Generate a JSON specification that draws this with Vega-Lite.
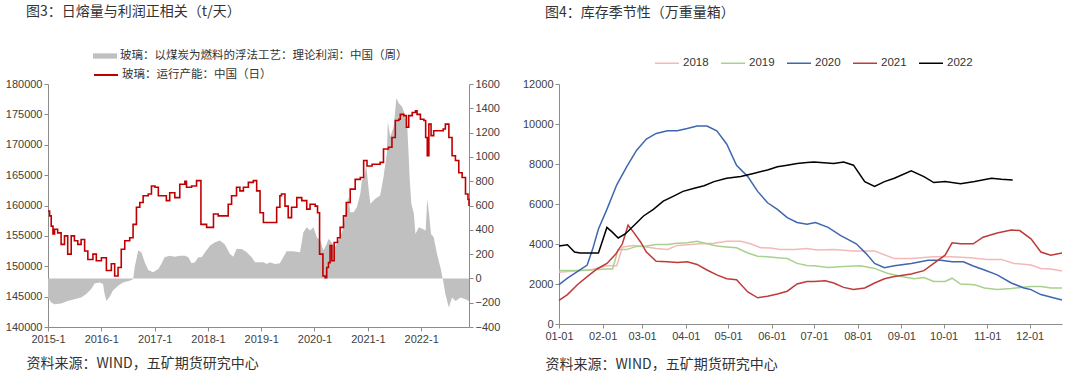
{
  "$schema": "https://vega.github.io/schema/vega-lite/v6.json",
  "background": "white",
  "padding": {"left": 5, "top": 5, "right": 0, "bottom": 0},
  "spacing": 22,
  "resolve": {"legend": {"color": "independent", "fill": "independent", "stroke": "independent", "strokeWidth": "independent"}, "scale": {"color": "independent", "fill": "independent", "stroke": "independent", "strokeWidth": "independent"}},
  "config": {
    "font": "Liberation Sans",
    "view": {"stroke": null},
    "axis": {"grid": false, "labelFont": "Liberation Sans", "labelFontSize": 11, "labelColor": "#404040", "domainColor": "#8c8c8c", "tickColor": "#8c8c8c", "tickSize": 4, "labelPadding": 2},
    "title": {"font": "Noto Sans CJK SC", "fontSize": 14, "fontWeight": "normal", "color": "#333333", "anchor": "start", "frame": "group"}
  },
  "datasets": {
    "profit": [
      {"date": "2015-01-01", "value": -157}, {"date": "2015-01-23", "value": -198}, {"date": "2015-02-15", "value": -212}, {"date": "2015-04-01", "value": -207},
      {"date": "2015-05-16", "value": -185}, {"date": "2015-07-01", "value": -171}, {"date": "2015-08-16", "value": -157}, {"date": "2015-09-20", "value": -129},
      {"date": "2015-10-24", "value": -88}, {"date": "2015-11-16", "value": -41}, {"date": "2015-12-20", "value": -33}, {"date": "2016-01-13", "value": -47},
      {"date": "2016-01-24", "value": -129}, {"date": "2016-02-05", "value": -185}, {"date": "2016-02-28", "value": -152}, {"date": "2016-03-20", "value": -102},
      {"date": "2016-04-25", "value": -61}, {"date": "2016-05-29", "value": -33}, {"date": "2016-07-14", "value": -19}, {"date": "2016-08-06", "value": -6},
      {"date": "2016-08-17", "value": 91}, {"date": "2016-09-10", "value": 229}, {"date": "2016-10-02", "value": 215}, {"date": "2016-10-25", "value": 132},
      {"date": "2016-11-18", "value": 69}, {"date": "2016-12-21", "value": 50}, {"date": "2017-01-26", "value": 77}, {"date": "2017-02-18", "value": 124},
      {"date": "2017-03-10", "value": 174}, {"date": "2017-04-14", "value": 187}, {"date": "2017-05-19", "value": 179}, {"date": "2017-06-22", "value": 187},
      {"date": "2017-07-27", "value": 187}, {"date": "2017-08-19", "value": 174}, {"date": "2017-09-11", "value": 124}, {"date": "2017-10-04", "value": 132},
      {"date": "2017-10-27", "value": 174}, {"date": "2017-11-19", "value": 174}, {"date": "2017-12-12", "value": 215}, {"date": "2018-01-16", "value": 270},
      {"date": "2018-02-19", "value": 298}, {"date": "2018-03-24", "value": 311}, {"date": "2018-04-27", "value": 278}, {"date": "2018-06-01", "value": 201},
      {"date": "2018-06-24", "value": 179}, {"date": "2018-07-16", "value": 242}, {"date": "2018-08-20", "value": 242}, {"date": "2018-09-24", "value": 215},
      {"date": "2018-10-28", "value": 174}, {"date": "2018-11-20", "value": 132}, {"date": "2019-01-16", "value": 132}, {"date": "2019-02-09", "value": 118},
      {"date": "2019-03-01", "value": 132}, {"date": "2019-04-05", "value": 118}, {"date": "2019-05-09", "value": 124}, {"date": "2019-06-24", "value": 223},
      {"date": "2019-08-09", "value": 223}, {"date": "2019-09-24", "value": 215}, {"date": "2019-10-17", "value": 380}, {"date": "2019-11-09", "value": 421},
      {"date": "2019-12-02", "value": 394}, {"date": "2019-12-25", "value": 421}, {"date": "2020-01-17", "value": 339}, {"date": "2020-02-10", "value": 311},
      {"date": "2020-03-02", "value": 229}, {"date": "2020-03-25", "value": 284}, {"date": "2020-04-06", "value": 325}, {"date": "2020-04-17", "value": 311},
      {"date": "2020-05-21", "value": 256}, {"date": "2020-06-25", "value": 339}, {"date": "2020-07-18", "value": 421}, {"date": "2020-08-06", "value": 587},
      {"date": "2020-08-21", "value": 669}, {"date": "2020-09-02", "value": 545}, {"date": "2020-09-25", "value": 545}, {"date": "2020-10-18", "value": 587},
      {"date": "2020-11-10", "value": 697}, {"date": "2020-11-21", "value": 807}, {"date": "2020-12-08", "value": 835}, {"date": "2020-12-21", "value": 931},
      {"date": "2021-01-07", "value": 725}, {"date": "2021-01-18", "value": 614}, {"date": "2021-02-21", "value": 656}, {"date": "2021-03-26", "value": 683},
      {"date": "2021-04-18", "value": 835}, {"date": "2021-05-11", "value": 1028}, {"date": "2021-05-18", "value": 1289}, {"date": "2021-06-03", "value": 1165},
      {"date": "2021-06-27", "value": 1248}, {"date": "2021-07-15", "value": 1482}, {"date": "2021-08-01", "value": 1441}, {"date": "2021-08-24", "value": 1413},
      {"date": "2021-09-09", "value": 1358}, {"date": "2021-09-27", "value": 1275}, {"date": "2021-10-08", "value": 1000}, {"date": "2021-10-15", "value": 807},
      {"date": "2021-10-26", "value": 614}, {"date": "2021-11-12", "value": 532}, {"date": "2021-11-23", "value": 366}, {"date": "2021-12-16", "value": 421},
      {"date": "2022-01-08", "value": 408}, {"date": "2022-02-01", "value": 394}, {"date": "2022-02-12", "value": 656}, {"date": "2022-02-23", "value": 545},
      {"date": "2022-03-10", "value": 366}, {"date": "2022-03-28", "value": 339}, {"date": "2022-04-20", "value": 201}, {"date": "2022-05-13", "value": 91},
      {"date": "2022-06-01", "value": -19}, {"date": "2022-06-16", "value": -129}, {"date": "2022-07-10", "value": -240}, {"date": "2022-08-01", "value": -157},
      {"date": "2022-08-24", "value": -185}, {"date": "2022-09-28", "value": -157}, {"date": "2022-11-01", "value": -171}, {"date": "2022-11-25", "value": -185}
    ],
    "capacity": [
      {"date": "2015-01-01", "value": 159100}, {"date": "2015-01-12", "value": 158300}, {"date": "2015-01-23", "value": 156600}, {"date": "2015-02-04", "value": 155300},
      {"date": "2015-02-15", "value": 156100}, {"date": "2015-03-08", "value": 155500}, {"date": "2015-04-01", "value": 153600}, {"date": "2015-04-24", "value": 155000},
      {"date": "2015-05-16", "value": 152000}, {"date": "2015-06-09", "value": 155000}, {"date": "2015-07-01", "value": 154200}, {"date": "2015-07-24", "value": 153600},
      {"date": "2015-08-16", "value": 154400}, {"date": "2015-09-09", "value": 152500}, {"date": "2015-10-01", "value": 151100}, {"date": "2015-11-05", "value": 152000},
      {"date": "2015-11-28", "value": 150900}, {"date": "2016-01-02", "value": 151400}, {"date": "2016-02-05", "value": 149300}, {"date": "2016-03-10", "value": 150400},
      {"date": "2016-04-02", "value": 148400}, {"date": "2016-04-25", "value": 149800}, {"date": "2016-05-17", "value": 152800}, {"date": "2016-06-10", "value": 154200},
      {"date": "2016-07-14", "value": 154700}, {"date": "2016-08-06", "value": 156900}, {"date": "2016-08-29", "value": 159700}, {"date": "2016-09-21", "value": 160500},
      {"date": "2016-10-14", "value": 161600}, {"date": "2016-11-18", "value": 161900}, {"date": "2016-12-10", "value": 163200}, {"date": "2017-01-03", "value": 163000},
      {"date": "2017-01-26", "value": 161600}, {"date": "2017-03-01", "value": 161600}, {"date": "2017-03-22", "value": 160800}, {"date": "2017-04-14", "value": 162100},
      {"date": "2017-05-19", "value": 161300}, {"date": "2017-06-22", "value": 163500}, {"date": "2017-07-27", "value": 164000}, {"date": "2017-08-07", "value": 163000},
      {"date": "2017-09-11", "value": 163200}, {"date": "2017-10-15", "value": 164100}, {"date": "2017-11-03", "value": 164100}, {"date": "2017-11-14", "value": 156900},
      {"date": "2017-12-12", "value": 156900}, {"date": "2017-12-23", "value": 156400}, {"date": "2018-02-08", "value": 158600}, {"date": "2018-03-12", "value": 158300},
      {"date": "2018-04-16", "value": 158300}, {"date": "2018-05-20", "value": 160200}, {"date": "2018-06-12", "value": 161600}, {"date": "2018-07-16", "value": 163000},
      {"date": "2018-08-08", "value": 162400}, {"date": "2018-09-01", "value": 163000}, {"date": "2018-10-05", "value": 163800}, {"date": "2018-11-08", "value": 164100},
      {"date": "2018-12-01", "value": 162400}, {"date": "2018-12-24", "value": 158800}, {"date": "2019-01-16", "value": 157200}, {"date": "2019-03-01", "value": 157200},
      {"date": "2019-04-17", "value": 159700}, {"date": "2019-05-09", "value": 161600}, {"date": "2019-05-20", "value": 161900}, {"date": "2019-06-13", "value": 159900},
      {"date": "2019-07-05", "value": 158000}, {"date": "2019-07-28", "value": 159700}, {"date": "2019-09-02", "value": 161300}, {"date": "2019-10-06", "value": 160800},
      {"date": "2019-11-09", "value": 159400}, {"date": "2019-12-02", "value": 160200}, {"date": "2020-01-06", "value": 159900}, {"date": "2020-01-22", "value": 158800},
      {"date": "2020-02-05", "value": 152000}, {"date": "2020-02-28", "value": 148400}, {"date": "2020-03-14", "value": 148100}, {"date": "2020-03-25", "value": 149800},
      {"date": "2020-04-06", "value": 150600}, {"date": "2020-04-17", "value": 153400}, {"date": "2020-04-29", "value": 150900}, {"date": "2020-05-15", "value": 153900},
      {"date": "2020-06-07", "value": 154700}, {"date": "2020-06-25", "value": 156400}, {"date": "2020-07-18", "value": 158300}, {"date": "2020-08-06", "value": 160500},
      {"date": "2020-09-02", "value": 162700}, {"date": "2020-10-06", "value": 164300}, {"date": "2020-11-10", "value": 164600}, {"date": "2020-12-03", "value": 167400},
      {"date": "2020-12-26", "value": 166500}, {"date": "2021-01-30", "value": 166800}, {"date": "2021-03-03", "value": 166800}, {"date": "2021-03-26", "value": 167100},
      {"date": "2021-04-18", "value": 169300}, {"date": "2021-05-22", "value": 169600}, {"date": "2021-06-15", "value": 171200}, {"date": "2021-07-08", "value": 174000},
      {"date": "2021-08-01", "value": 174200}, {"date": "2021-08-11", "value": 175000}, {"date": "2021-09-04", "value": 174800}, {"date": "2021-09-22", "value": 172900},
      {"date": "2021-10-08", "value": 174800}, {"date": "2021-11-01", "value": 175300}, {"date": "2021-11-23", "value": 175600}, {"date": "2021-12-04", "value": 175000},
      {"date": "2021-12-27", "value": 174200}, {"date": "2022-01-20", "value": 174000}, {"date": "2022-02-01", "value": 171200}, {"date": "2022-02-12", "value": 168200},
      {"date": "2022-02-23", "value": 173400}, {"date": "2022-03-10", "value": 171500}, {"date": "2022-03-28", "value": 172300}, {"date": "2022-05-01", "value": 172300},
      {"date": "2022-06-01", "value": 172600}, {"date": "2022-06-16", "value": 173400}, {"date": "2022-07-10", "value": 171200}, {"date": "2022-08-01", "value": 168200},
      {"date": "2022-08-24", "value": 167400}, {"date": "2022-09-16", "value": 165400}, {"date": "2022-10-09", "value": 164600}, {"date": "2022-11-01", "value": 161900},
      {"date": "2022-11-18", "value": 161000}, {"date": "2022-11-25", "value": 159900}
    ],
    "inventory": [
      {"year": "2018", "date": "2022-01-01", "value": 2590}, {"year": "2018", "date": "2022-01-12", "value": 2650}, {"year": "2018", "date": "2022-01-23", "value": 2700},
      {"year": "2018", "date": "2022-02-04", "value": 2910}, {"year": "2018", "date": "2022-02-11", "value": 2910}, {"year": "2018", "date": "2022-02-15", "value": 3850},
      {"year": "2018", "date": "2022-02-23", "value": 3930}, {"year": "2018", "date": "2022-03-04", "value": 3850}, {"year": "2018", "date": "2022-03-11", "value": 3770},
      {"year": "2018", "date": "2022-03-19", "value": 3730}, {"year": "2018", "date": "2022-03-26", "value": 3930}, {"year": "2018", "date": "2022-04-02", "value": 3960},
      {"year": "2018", "date": "2022-04-11", "value": 4010}, {"year": "2018", "date": "2022-04-21", "value": 4040}, {"year": "2018", "date": "2022-04-30", "value": 4140},
      {"year": "2018", "date": "2022-05-10", "value": 4140}, {"year": "2018", "date": "2022-05-17", "value": 4010}, {"year": "2018", "date": "2022-05-24", "value": 3810},
      {"year": "2018", "date": "2022-05-31", "value": 3800}, {"year": "2018", "date": "2022-06-07", "value": 3730}, {"year": "2018", "date": "2022-06-17", "value": 3730},
      {"year": "2018", "date": "2022-06-26", "value": 3770}, {"year": "2018", "date": "2022-07-03", "value": 3700}, {"year": "2018", "date": "2022-07-15", "value": 3730},
      {"year": "2018", "date": "2022-07-29", "value": 3650}, {"year": "2018", "date": "2022-08-13", "value": 3650}, {"year": "2018", "date": "2022-08-27", "value": 3270},
      {"year": "2018", "date": "2022-09-08", "value": 3270}, {"year": "2018", "date": "2022-09-24", "value": 3360}, {"year": "2018", "date": "2022-10-06", "value": 3360},
      {"year": "2018", "date": "2022-10-20", "value": 3310}, {"year": "2018", "date": "2022-11-01", "value": 3230}, {"year": "2018", "date": "2022-11-11", "value": 3230},
      {"year": "2018", "date": "2022-11-20", "value": 3030}, {"year": "2018", "date": "2022-12-02", "value": 2950}, {"year": "2018", "date": "2022-12-09", "value": 2780},
      {"year": "2018", "date": "2022-12-16", "value": 2750}, {"year": "2018", "date": "2022-12-24", "value": 2650},
      {"year": "2019", "date": "2022-01-01", "value": 2670}, {"year": "2019", "date": "2022-01-12", "value": 2670}, {"year": "2019", "date": "2022-01-23", "value": 2700},
      {"year": "2019", "date": "2022-02-04", "value": 2750}, {"year": "2019", "date": "2022-02-08", "value": 2750}, {"year": "2019", "date": "2022-02-12", "value": 3720},
      {"year": "2019", "date": "2022-02-18", "value": 3720}, {"year": "2019", "date": "2022-02-25", "value": 3880}, {"year": "2019", "date": "2022-03-04", "value": 3900},
      {"year": "2019", "date": "2022-03-11", "value": 3980}, {"year": "2019", "date": "2022-03-19", "value": 3980}, {"year": "2019", "date": "2022-03-26", "value": 4040},
      {"year": "2019", "date": "2022-04-02", "value": 4060}, {"year": "2019", "date": "2022-04-09", "value": 4140}, {"year": "2019", "date": "2022-04-16", "value": 4010},
      {"year": "2019", "date": "2022-04-23", "value": 3900}, {"year": "2019", "date": "2022-04-30", "value": 3850}, {"year": "2019", "date": "2022-05-07", "value": 3810},
      {"year": "2019", "date": "2022-05-15", "value": 3550}, {"year": "2019", "date": "2022-05-22", "value": 3390}, {"year": "2019", "date": "2022-05-29", "value": 3360},
      {"year": "2019", "date": "2022-06-05", "value": 3310}, {"year": "2019", "date": "2022-06-12", "value": 3270}, {"year": "2019", "date": "2022-06-19", "value": 3030},
      {"year": "2019", "date": "2022-06-26", "value": 2930}, {"year": "2019", "date": "2022-07-01", "value": 2910}, {"year": "2019", "date": "2022-07-11", "value": 2830},
      {"year": "2019", "date": "2022-07-22", "value": 2870}, {"year": "2019", "date": "2022-08-03", "value": 2910}, {"year": "2019", "date": "2022-08-13", "value": 2780},
      {"year": "2019", "date": "2022-08-22", "value": 2540}, {"year": "2019", "date": "2022-09-01", "value": 2370}, {"year": "2019", "date": "2022-09-10", "value": 2260},
      {"year": "2019", "date": "2022-09-17", "value": 2320}, {"year": "2019", "date": "2022-09-24", "value": 2130}, {"year": "2019", "date": "2022-10-02", "value": 2130},
      {"year": "2019", "date": "2022-10-07", "value": 2290}, {"year": "2019", "date": "2022-10-13", "value": 2000}, {"year": "2019", "date": "2022-10-23", "value": 1965},
      {"year": "2019", "date": "2022-10-30", "value": 1800}, {"year": "2019", "date": "2022-11-08", "value": 1720}, {"year": "2019", "date": "2022-11-18", "value": 1770},
      {"year": "2019", "date": "2022-12-02", "value": 1880}, {"year": "2019", "date": "2022-12-09", "value": 1880}, {"year": "2019", "date": "2022-12-16", "value": 1800},
      {"year": "2019", "date": "2022-12-24", "value": 1800},
      {"year": "2020", "date": "2022-01-01", "value": 1965}, {"year": "2020", "date": "2022-01-07", "value": 2290}, {"year": "2020", "date": "2022-01-14", "value": 2620},
      {"year": "2020", "date": "2022-01-21", "value": 2950}, {"year": "2020", "date": "2022-01-25", "value": 3770}, {"year": "2020", "date": "2022-01-29", "value": 4750},
      {"year": "2020", "date": "2022-02-04", "value": 5730}, {"year": "2020", "date": "2022-02-11", "value": 6960}, {"year": "2020", "date": "2022-02-18", "value": 7860},
      {"year": "2020", "date": "2022-02-25", "value": 8680}, {"year": "2020", "date": "2022-03-04", "value": 9250}, {"year": "2020", "date": "2022-03-11", "value": 9530},
      {"year": "2020", "date": "2022-03-19", "value": 9660}, {"year": "2020", "date": "2022-03-26", "value": 9660}, {"year": "2020", "date": "2022-04-02", "value": 9770},
      {"year": "2020", "date": "2022-04-09", "value": 9900}, {"year": "2020", "date": "2022-04-16", "value": 9900}, {"year": "2020", "date": "2022-04-23", "value": 9660},
      {"year": "2020", "date": "2022-04-30", "value": 9000}, {"year": "2020", "date": "2022-05-07", "value": 7940}, {"year": "2020", "date": "2022-05-15", "value": 7370},
      {"year": "2020", "date": "2022-05-22", "value": 6630}, {"year": "2020", "date": "2022-05-29", "value": 6060}, {"year": "2020", "date": "2022-06-05", "value": 5730},
      {"year": "2020", "date": "2022-06-12", "value": 5320}, {"year": "2020", "date": "2022-06-19", "value": 5075}, {"year": "2020", "date": "2022-06-26", "value": 4990},
      {"year": "2020", "date": "2022-07-02", "value": 5075}, {"year": "2020", "date": "2022-07-11", "value": 4830}, {"year": "2020", "date": "2022-07-20", "value": 4420},
      {"year": "2020", "date": "2022-07-31", "value": 4010}, {"year": "2020", "date": "2022-08-07", "value": 3520}, {"year": "2020", "date": "2022-08-13", "value": 3030},
      {"year": "2020", "date": "2022-08-20", "value": 2816}, {"year": "2020", "date": "2022-08-27", "value": 2914}, {"year": "2020", "date": "2022-09-08", "value": 3030},
      {"year": "2020", "date": "2022-09-20", "value": 3190}, {"year": "2020", "date": "2022-09-29", "value": 3190}, {"year": "2020", "date": "2022-10-07", "value": 3110},
      {"year": "2020", "date": "2022-10-15", "value": 3110}, {"year": "2020", "date": "2022-10-22", "value": 2900}, {"year": "2020", "date": "2022-10-30", "value": 2700},
      {"year": "2020", "date": "2022-11-08", "value": 2456}, {"year": "2020", "date": "2022-11-18", "value": 2050}, {"year": "2020", "date": "2022-11-27", "value": 1800},
      {"year": "2020", "date": "2022-12-02", "value": 1720}, {"year": "2020", "date": "2022-12-09", "value": 1470}, {"year": "2020", "date": "2022-12-24", "value": 1195},
      {"year": "2021", "date": "2022-01-01", "value": 1180}, {"year": "2021", "date": "2022-01-07", "value": 1470}, {"year": "2021", "date": "2022-01-14", "value": 1965},
      {"year": "2021", "date": "2022-01-21", "value": 2370}, {"year": "2021", "date": "2022-01-28", "value": 2750}, {"year": "2021", "date": "2022-02-04", "value": 3030},
      {"year": "2021", "date": "2022-02-10", "value": 3470}, {"year": "2021", "date": "2022-02-15", "value": 4010}, {"year": "2021", "date": "2022-02-19", "value": 4940},
      {"year": "2021", "date": "2022-02-23", "value": 4580}, {"year": "2021", "date": "2022-02-28", "value": 4090}, {"year": "2021", "date": "2022-03-04", "value": 3600},
      {"year": "2021", "date": "2022-03-11", "value": 3140}, {"year": "2021", "date": "2022-03-19", "value": 3110}, {"year": "2021", "date": "2022-03-26", "value": 3080},
      {"year": "2021", "date": "2022-04-02", "value": 3110}, {"year": "2021", "date": "2022-04-09", "value": 2980}, {"year": "2021", "date": "2022-04-16", "value": 2700},
      {"year": "2021", "date": "2022-04-23", "value": 2456}, {"year": "2021", "date": "2022-04-30", "value": 2260}, {"year": "2021", "date": "2022-05-07", "value": 2210},
      {"year": "2021", "date": "2022-05-15", "value": 1600}, {"year": "2021", "date": "2022-05-22", "value": 1310}, {"year": "2021", "date": "2022-05-29", "value": 1390},
      {"year": "2021", "date": "2022-06-05", "value": 1500}, {"year": "2021", "date": "2022-06-12", "value": 1640}, {"year": "2021", "date": "2022-06-19", "value": 2000},
      {"year": "2021", "date": "2022-06-26", "value": 2130}, {"year": "2021", "date": "2022-07-01", "value": 2130}, {"year": "2021", "date": "2022-07-09", "value": 2160},
      {"year": "2021", "date": "2022-07-15", "value": 2050}, {"year": "2021", "date": "2022-07-22", "value": 1830}, {"year": "2021", "date": "2022-07-29", "value": 1720},
      {"year": "2021", "date": "2022-08-06", "value": 1800}, {"year": "2021", "date": "2022-08-13", "value": 2050}, {"year": "2021", "date": "2022-08-20", "value": 2260},
      {"year": "2021", "date": "2022-08-27", "value": 2370}, {"year": "2021", "date": "2022-09-08", "value": 2500}, {"year": "2021", "date": "2022-09-17", "value": 2670},
      {"year": "2021", "date": "2022-09-24", "value": 3030}, {"year": "2021", "date": "2022-10-02", "value": 3440}, {"year": "2021", "date": "2022-10-07", "value": 4060},
      {"year": "2021", "date": "2022-10-13", "value": 4010}, {"year": "2021", "date": "2022-10-22", "value": 4010}, {"year": "2021", "date": "2022-10-29", "value": 4340},
      {"year": "2021", "date": "2022-11-08", "value": 4550}, {"year": "2021", "date": "2022-11-18", "value": 4700}, {"year": "2021", "date": "2022-11-24", "value": 4670},
      {"year": "2021", "date": "2022-12-02", "value": 4260}, {"year": "2021", "date": "2022-12-09", "value": 3600}, {"year": "2021", "date": "2022-12-16", "value": 3440},
      {"year": "2021", "date": "2022-12-24", "value": 3550},
      {"year": "2022", "date": "2022-01-01", "value": 3900}, {"year": "2022", "date": "2022-01-07", "value": 3960}, {"year": "2022", "date": "2022-01-12", "value": 3600},
      {"year": "2022", "date": "2022-01-16", "value": 3550}, {"year": "2022", "date": "2022-01-23", "value": 3550}, {"year": "2022", "date": "2022-01-29", "value": 3550},
      {"year": "2022", "date": "2022-02-04", "value": 4830}, {"year": "2022", "date": "2022-02-08", "value": 4580}, {"year": "2022", "date": "2022-02-12", "value": 4300},
      {"year": "2022", "date": "2022-02-17", "value": 4500}, {"year": "2022", "date": "2022-02-23", "value": 4910}, {"year": "2022", "date": "2022-03-02", "value": 5400},
      {"year": "2022", "date": "2022-03-09", "value": 5730}, {"year": "2022", "date": "2022-03-16", "value": 6140}, {"year": "2022", "date": "2022-03-23", "value": 6385},
      {"year": "2022", "date": "2022-03-30", "value": 6630}, {"year": "2022", "date": "2022-04-07", "value": 6790}, {"year": "2022", "date": "2022-04-14", "value": 6910},
      {"year": "2022", "date": "2022-04-21", "value": 7120}, {"year": "2022", "date": "2022-04-30", "value": 7290}, {"year": "2022", "date": "2022-05-10", "value": 7370},
      {"year": "2022", "date": "2022-05-19", "value": 7530}, {"year": "2022", "date": "2022-05-29", "value": 7700}, {"year": "2022", "date": "2022-06-05", "value": 7860},
      {"year": "2022", "date": "2022-06-12", "value": 7940}, {"year": "2022", "date": "2022-06-19", "value": 8020}, {"year": "2022", "date": "2022-06-26", "value": 8070},
      {"year": "2022", "date": "2022-07-01", "value": 8100}, {"year": "2022", "date": "2022-07-15", "value": 8020}, {"year": "2022", "date": "2022-07-22", "value": 8100},
      {"year": "2022", "date": "2022-07-29", "value": 7940}, {"year": "2022", "date": "2022-08-06", "value": 7120}, {"year": "2022", "date": "2022-08-13", "value": 6880},
      {"year": "2022", "date": "2022-08-20", "value": 7120}, {"year": "2022", "date": "2022-08-27", "value": 7290}, {"year": "2022", "date": "2022-09-08", "value": 7660},
      {"year": "2022", "date": "2022-09-17", "value": 7370}, {"year": "2022", "date": "2022-09-24", "value": 7070}, {"year": "2022", "date": "2022-10-02", "value": 7120},
      {"year": "2022", "date": "2022-10-13", "value": 7010}, {"year": "2022", "date": "2022-10-23", "value": 7120}, {"year": "2022", "date": "2022-11-04", "value": 7290},
      {"year": "2022", "date": "2022-11-11", "value": 7240}, {"year": "2022", "date": "2022-11-19", "value": 7200}
    ]
  },
  "hconcat": [
    {
      "width": 421,
      "height": 243,
      "title": {"text": "图3：日熔量与利润正相关（t/天）", "dx": -22, "offset": 25},
      "layer": [
        {
          "data": {"name": "profit"},
          "mark": {"type": "area", "interpolate": "linear"},
          "encoding": {
            "x": {
              "field": "date", "type": "temporal",
              "scale": {"type": "utc", "nice": false, "domain": [{"year": 2015, "month": 1, "date": 1, "utc": true}, {"year": 2022, "month": 11, "date": 25, "utc": true}]},
              "axis": {
                "format": "%Y-%-m", "labelFlush": false, "labelOverlap": false,
                "values": [
                  {"year": 2015, "month": 1, "date": 1, "utc": true}, {"year": 2016, "month": 1, "date": 1, "utc": true},
                  {"year": 2017, "month": 1, "date": 1, "utc": true}, {"year": 2018, "month": 1, "date": 1, "utc": true},
                  {"year": 2019, "month": 1, "date": 1, "utc": true}, {"year": 2020, "month": 1, "date": 1, "utc": true},
                  {"year": 2021, "month": 1, "date": 1, "utc": true}, {"year": 2022, "month": 1, "date": 1, "utc": true}
                ],
                "title": "资料来源：WIND，五矿期货研究中心",
                "titleFont": "Noto Sans CJK SC", "titleFontSize": 14, "titleFontWeight": "normal", "titleColor": "#333333",
                "titleAnchor": "start", "titleAlign": "left", "titleBaseline": "middle", "titleX": -22, "titleY": 36
              }
            },
            "y": {
              "field": "value", "type": "quantitative",
              "scale": {"domain": [-400, 1600], "nice": false},
              "axis": {"orient": "right", "title": null, "values": [-400, -200, 0, 200, 400, 600, 800, 1000, 1200, 1400, 1600], "format": "d"}
            },
            "fill": {
              "datum": "玻璃：以煤炭为燃料的浮法工艺：理论利润：中国（周）",
              "scale": {"range": ["#c0c0c0"]},
              "legend": {
                "orient": "none", "legendX": 45, "legendY": -40, "title": null,
                "symbolType": "M-1,-0.22H1V0.22H-1Z", "symbolSize": 576, "symbolStrokeWidth": 0,
                "labelFont": "Noto Sans CJK SC", "labelFontSize": 11.5, "labelColor": "#333333", "labelOffset": 3, "labelLimit": 400
              }
            }
          }
        },
        {
          "data": {"name": "capacity"},
          "mark": {"type": "line", "interpolate": "step-after", "strokeWidth": 1.6},
          "encoding": {
            "x": {"field": "date", "type": "temporal"},
            "y": {
              "field": "value", "type": "quantitative",
              "scale": {"domain": [140000, 180000], "nice": false},
              "axis": {"orient": "left", "title": null, "values": [140000, 145000, 150000, 155000, 160000, 165000, 170000, 175000, 180000], "format": "d"}
            },
            "stroke": {
              "datum": "玻璃：运行产能：中国（日）",
              "scale": {"range": ["#c00000"]},
              "legend": {
                "orient": "none", "legendX": 45, "legendY": -22, "title": null,
                "symbolType": "stroke", "symbolSize": 576, "symbolStrokeWidth": 2,
                "labelFont": "Noto Sans CJK SC", "labelFontSize": 11.5, "labelColor": "#333333", "labelOffset": 3, "labelLimit": 400
              }
            }
          }
        }
      ],
      "resolve": {"scale": {"y": "independent"}}
    },
    {
      "width": 503,
      "height": 240,
      "title": {"text": "图4：库存季节性（万重量箱）", "dx": -14, "offset": 30},
      "data": {"name": "inventory"},
      "mark": {"type": "line", "interpolate": "linear"},
      "encoding": {
        "x": {
          "field": "date", "type": "temporal",
          "scale": {"type": "utc", "nice": false, "domain": [{"year": 2022, "month": 1, "date": 1, "utc": true}, {"year": 2022, "month": 12, "date": 24, "utc": true}]},
          "axis": {
            "format": "%m-%d", "labelFlush": false, "labelOverlap": false,
            "values": [
              {"year": 2022, "month": 1, "date": 1, "utc": true}, {"year": 2022, "month": 2, "date": 1, "utc": true},
              {"year": 2022, "month": 3, "date": 1, "utc": true}, {"year": 2022, "month": 4, "date": 1, "utc": true},
              {"year": 2022, "month": 5, "date": 1, "utc": true}, {"year": 2022, "month": 6, "date": 1, "utc": true},
              {"year": 2022, "month": 7, "date": 1, "utc": true}, {"year": 2022, "month": 8, "date": 1, "utc": true},
              {"year": 2022, "month": 9, "date": 1, "utc": true}, {"year": 2022, "month": 10, "date": 1, "utc": true},
              {"year": 2022, "month": 11, "date": 1, "utc": true}, {"year": 2022, "month": 12, "date": 1, "utc": true}
            ],
            "title": "资料来源：WIND，五矿期货研究中心",
            "titleFont": "Noto Sans CJK SC", "titleFontSize": 14, "titleFontWeight": "normal", "titleColor": "#333333",
            "titleAnchor": "start", "titleAlign": "left", "titleBaseline": "middle", "titleX": -14, "titleY": 40
          }
        },
        "y": {
          "field": "value", "type": "quantitative",
          "scale": {"domain": [0, 12000], "nice": false},
          "axis": {"title": null, "values": [0, 2000, 4000, 6000, 8000, 10000, 12000], "format": "d"}
        },
        "color": {
          "field": "year", "type": "nominal",
          "scale": {"domain": ["2018", "2019", "2020", "2021", "2022"], "range": ["#f4b8b8", "#a9d18e", "#3f67ad", "#bf3a3a", "#000000"]},
          "legend": {
            "orient": "none", "legendX": 95, "legendY": -34, "direction": "horizontal", "title": null,
            "symbolType": "stroke", "symbolSize": 576, "symbolStrokeWidth": 2,
            "labelFont": "Liberation Sans", "labelFontSize": 11.5, "labelColor": "#333333", "labelOffset": 3, "columnPadding": 9
          }
        },
        "strokeWidth": {
          "field": "year", "type": "nominal",
          "scale": {"domain": ["2018", "2019", "2020", "2021", "2022"], "range": [1.5, 1.5, 2, 2, 2]},
          "legend": null
        }
      }
    }
  ]
}
